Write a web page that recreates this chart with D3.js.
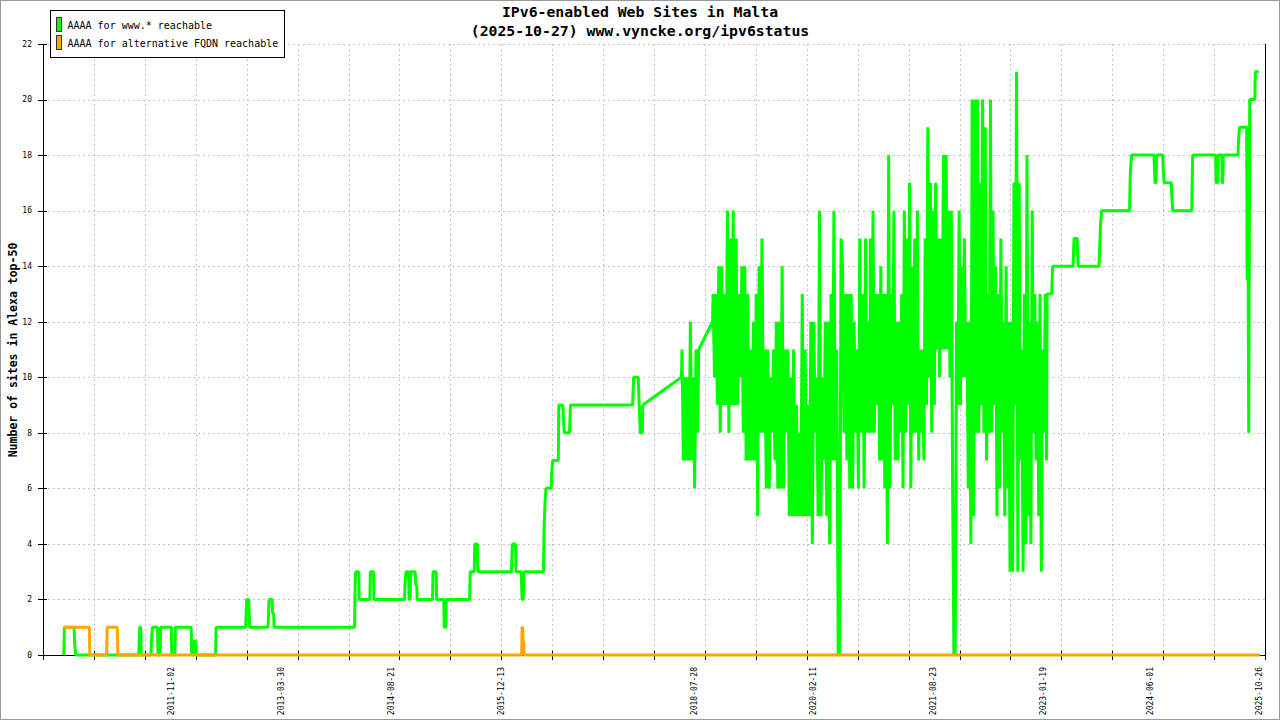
<!DOCTYPE html>
<html>
<head>
<meta charset="utf-8">
<script src="https://cdn.jsdelivr.net/npm/d3@7"></script>
<style>
  body { margin: 0; background: #fff; }
  text { font-family: "DejaVu Sans Mono", monospace; }
</style>
</head>
<body>
<div id="chart"></div>
<script>
// Titles and legend
const titleLines = ['IPv6-enabled Web Sites in Malta', '(2025-10-27) www.vyncke.org/ipv6status']
const yLabel = 'Number of sites in Alexa top-50'
const seriesNames = ['AAAA for www.* reachable', 'AAAA for alternative FQDN reachable']
const seriesColors = ['#00ff00', '#ffa500']

// Axes: x is the sample number, dates are text labels placed on some samples
const sampleCount = 2400
const xTickSamples = d3.range(0, sampleCount + 1, 100)
const yTicks = d3.range(0, 23, 2)
const dateLabels = ['2011-11-02', '2013-03-30', '2014-08-21', '2015-12-13', '2018-07-28',
  '2020-02-11', '2021-08-23', '2023-01-19', '2024-06-01', '2025-10-26']
const dateLabelSamples = [252, 467, 683, 899, 1278, 1512, 1748, 1964, 2175, 2389]

// www.* series: [sample, sites]
const wwwEarly = [
  [41, 0], [42, 1], [61, 1], [62, 0.5], [64, 0],
  [188, 0], [189, 0.5], [190, 1], [192, 1], [193, 0],
  [212, 0], [213, 0.5], [215, 1], [225, 1], [226, 0], [230, 0], [231, 1],
  [252, 1], [253, 0], [259, 0], [260, 1],
  [291, 1], [292, 0], [296, 0], [297, 0.5], [300, 0.5], [301, 0],
  [339, 0], [340, 1],
  [398, 1], [399, 1.5], [400, 2], [404, 2], [405, 1.5], [406, 1],
  [442, 1], [443, 1.5], [444, 2], [450, 2], [451, 1.5], [453, 1.5], [454, 1],
  [612, 1], [613, 2.5], [614, 3], [620, 3], [621, 2],
  [642, 2], [643, 3], [649, 3], [650, 2],
  [710, 2], [711, 2.5], [713, 3], [718, 3], [719, 2], [721, 2], [722, 3], [731, 3], [732, 2.5], [734, 2.5], [735, 2],
  [765, 2], [766, 3], [772, 3], [773, 2],
  [787, 2], [788, 1], [791, 1], [792, 2],
  [838, 2], [839, 3], [847, 3], [848, 4], [853, 4], [854, 3],
  [920, 3], [921, 3.5], [922, 4], [928, 4], [929, 3],
  [939, 3], [940, 2.5], [941, 2], [943, 2], [944, 2.5], [945, 3],
  [983, 3], [984, 4.5], [986, 5.5], [988, 6], [998, 6], [999, 6.5], [1001, 7], [1012, 7], [1013, 9],
  [1021, 9], [1022, 8.5], [1024, 8], [1034, 8], [1035, 8.5], [1036, 9],
  [1158, 9], [1159, 9.5], [1160, 10], [1169, 10], [1170, 9.5], [1171, 9], [1172, 8.5], [1173, 8], [1177, 8], [1178, 9],
  [1254, 10]
]
// daily samples in the busy years, read column by column
const wwwDaily0 = [11, 7, 10, 7, 10, 7, 12, 7, 10, 6, 11, 8, 11]
const wwwDaily0Span = [1255, 1288]
const wwwResume = [[1315, 12]]
const wwwDaily1 = [
  13, 10, 13, 9, 14, 8, 14, 9, 13, 9, 16, 8, 15, 9, 16, 9, 15, 9, 13, 10,
  14, 8, 14, 7, 13, 7, 11, 7, 12, 7, 13, 5, 14, 8, 15, 8, 11, 6, 11, 6,
  10, 8, 11, 7, 12, 6, 12, 6, 14, 6, 11, 8, 11, 5, 10, 5, 11, 5, 9, 5,
  8, 5, 13, 5, 11, 5, 9, 5, 12, 4, 12, 8, 10, 5, 16, 5, 10, 7, 12, 5,
  12, 4, 13, 7, 16, 7, 11, 0, 0, 15, 14, 8, 13, 7, 13, 6, 13, 6, 12, 8,
  11, 6, 15, 8, 13, 6, 15, 8, 12, 8
]
const wwwDaily1Span = [1316, 1624]
const wwwDaily2 = [
  15, 8, 16, 8, 13, 9, 13, 7, 14, 7, 13, 6, 13, 4, 18, 6, 13, 9, 16, 7,
  12, 7, 12, 8, 13, 6, 16, 8, 15, 9, 17, 6, 14, 8, 15, 8, 16, 7, 11, 8,
  11, 7, 15, 9, 19, 10, 17, 8, 16, 9, 17, 11, 15, 10, 15, 11, 18, 11, 18, 11,
  16, 10, 16, 6, 0, 0, 12, 9, 16, 9, 14, 10, 15, 10, 12, 6, 12, 4, 20, 5,
  20, 8, 20, 8, 17, 9, 20, 8, 19, 7, 13, 8, 20, 8, 16, 9, 14, 5, 13, 6,
  15, 8, 12, 5, 14, 6, 12, 3, 12, 3, 17, 9, 21, 3, 17, 7, 11, 3, 13, 4,
  18, 5, 12, 4, 16, 8, 13, 7, 12, 5, 13, 3, 11, 8, 13, 7
]
const wwwDaily2Span = [1625, 1971]
const wwwLate = [
  [1972, 13], [1981, 13], [1982, 13.5], [1983, 14], [2023, 14], [2024, 14.5], [2025, 15], [2031, 15],
  [2032, 14.5], [2033, 14], [2074, 14], [2075, 14.5], [2076, 15], [2077, 15.5], [2079, 16], [2134, 16],
  [2135, 17], [2136, 17.5], [2138, 18], [2182, 18], [2183, 17.5], [2184, 17], [2186, 17], [2187, 18],
  [2199, 18], [2200, 17.5], [2202, 17], [2216, 17], [2217, 16.5], [2219, 16], [2256, 16], [2257, 17],
  [2258, 18], [2303, 18], [2304, 17], [2307, 17], [2308, 18], [2315, 18], [2316, 17], [2317, 17],
  [2318, 18], [2347, 18], [2348, 18.5], [2350, 19], [2364, 19], [2365, 13.5], [2366, 19], [2367, 13.5],
  [2368, 8], [2369, 13.5], [2370, 20], [2380, 20], [2381, 21], [2388, 21]
]

// alternative FQDN series: [sample, sites]
const altPoints = [
  [41, 1], [91, 1], [92, 0], [125, 0], [126, 1], [146, 1], [147, 0],
  [940, 0], [941, 1], [942, 1], [943, 0.5], [944, 0.5], [945, 0], [2390, 0]
]

// layout
const width = 1280
const height = 720
const plotLeft = 43
const plotRight = 1265
const plotTop = 44
const plotBottom = 655

function spread(values, [s0, s1]) {
  return values.map((v, i) => [s0 + (i * (s1 - s0)) / (values.length - 1), v])
}

const wwwPoints = [].concat(
  wwwEarly,
  spread(wwwDaily0, wwwDaily0Span),
  wwwResume,
  spread(wwwDaily1, wwwDaily1Span),
  spread(wwwDaily2, wwwDaily2Span),
  wwwLate
)

const x = d3.scaleLinear().domain([0, sampleCount]).range([plotLeft, plotRight])
const y = d3.scaleLinear().domain([0, 22]).range([plotBottom, plotTop])
const crisp = (v) => Math.round(v) + 0.5

const svg = d3
  .select('#chart')
  .append('svg')
  .attr('width', width)
  .attr('height', height)

svg
  .append('rect')
  .attr('x', 0.5)
  .attr('y', 0.5)
  .attr('width', width - 1)
  .attr('height', height - 1)
  .attr('fill', '#fff')
  .attr('stroke', '#999')

// grid
const grid = svg.append('g').attr('stroke', '#c4c4c4').attr('stroke-dasharray', '2,3').attr('shape-rendering', 'crispEdges')
grid
  .selectAll('line.h')
  .data(yTicks.filter((d) => d > 0))
  .enter()
  .append('line')
  .attr('x1', plotLeft)
  .attr('x2', plotRight)
  .attr('y1', (d) => crisp(y(d)))
  .attr('y2', (d) => crisp(y(d)))
grid
  .selectAll('line.v')
  .data(xTickSamples.filter((d) => d > 0 && d < sampleCount))
  .enter()
  .append('line')
  .attr('x1', (d) => crisp(x(d)))
  .attr('x2', (d) => crisp(x(d)))
  .attr('y1', plotTop)
  .attr('y2', plotBottom)

// axes
const axes = svg.append('g').attr('stroke', '#000').attr('shape-rendering', 'crispEdges')
axes.append('line').attr('x1', crisp(x(0))).attr('x2', crisp(x(0))).attr('y1', plotTop).attr('y2', plotBottom + 5)
axes.append('line').attr('x1', crisp(x(sampleCount))).attr('x2', crisp(x(sampleCount))).attr('y1', plotTop).attr('y2', plotBottom + 5)
axes.append('line').attr('x1', plotLeft).attr('x2', plotRight).attr('y1', crisp(y(0))).attr('y2', crisp(y(0)))
axes
  .selectAll('line.xt')
  .data(xTickSamples)
  .enter()
  .append('line')
  .attr('x1', (d) => crisp(x(d)))
  .attr('x2', (d) => crisp(x(d)))
  .attr('y1', plotBottom - 4)
  .attr('y2', plotBottom + 5)
axes
  .selectAll('line.yt')
  .data(yTicks)
  .enter()
  .append('line')
  .attr('x1', plotLeft - 5)
  .attr('x2', plotLeft + 4)
  .attr('y1', (d) => crisp(y(d)))
  .attr('y2', (d) => crisp(y(d)))

svg
  .append('g')
  .selectAll('text')
  .data(yTicks)
  .enter()
  .append('text')
  .attr('x', plotLeft - 11)
  .attr('y', (d) => y(d))
  .attr('dy', '0.35em')
  .attr('text-anchor', 'end')
  .attr('font-size', 8)
  .text((d) => d)

svg
  .append('g')
  .selectAll('text')
  .data(dateLabels)
  .enter()
  .append('text')
  .attr('transform', (d, i) => `translate(${x(dateLabelSamples[i])},${plotBottom + 12}) rotate(-90)`)
  .attr('dy', '0.35em')
  .attr('text-anchor', 'end')
  .attr('font-size', 8)
  .text((d) => d)

// series
const line = d3
  .line()
  .x((d) => x(d[0]))
  .y((d) => y(d[1]))

;[wwwPoints, altPoints].forEach((pts, i) => {
  svg
    .append('path')
    .attr('d', line(pts))
    .attr('fill', 'none')
    .attr('stroke', seriesColors[i])
    .attr('stroke-width', 3)
    .attr('stroke-linejoin', 'bevel')
})

// titles
svg
  .selectAll('text.title')
  .data(titleLines)
  .enter()
  .append('text')
  .attr('x', width / 2)
  .attr('y', (d, i) => 17 + i * 19)
  .attr('text-anchor', 'middle')
  .attr('font-size', 14.8)
  .attr('font-weight', 'bold')
  .text((d) => d)

svg
  .append('text')
  .attr('transform', `translate(13,350) rotate(-90)`)
  .attr('dy', '0.35em')
  .attr('text-anchor', 'middle')
  .attr('font-size', 11.5)
  .attr('font-weight', 'bold')
  .text(yLabel)

// legend
const legend = svg.append('g')
legend
  .append('rect')
  .attr('x', 50.5)
  .attr('y', 10.5)
  .attr('width', 234)
  .attr('height', 47)
  .attr('fill', '#fff')
  .attr('stroke', '#000')
seriesNames.forEach((name, i) => {
  legend
    .append('rect')
    .attr('x', 56.5)
    .attr('y', 17.5 + i * 18)
    .attr('width', 5)
    .attr('height', 14)
    .attr('fill', seriesColors[i])
    .attr('stroke', '#333')
  legend
    .append('text')
    .attr('x', 67.5)
    .attr('y', 29.3 + i * 17.7)
    .attr('font-size', 10)
    .text(name)
})
</script>
</body>
</html>
